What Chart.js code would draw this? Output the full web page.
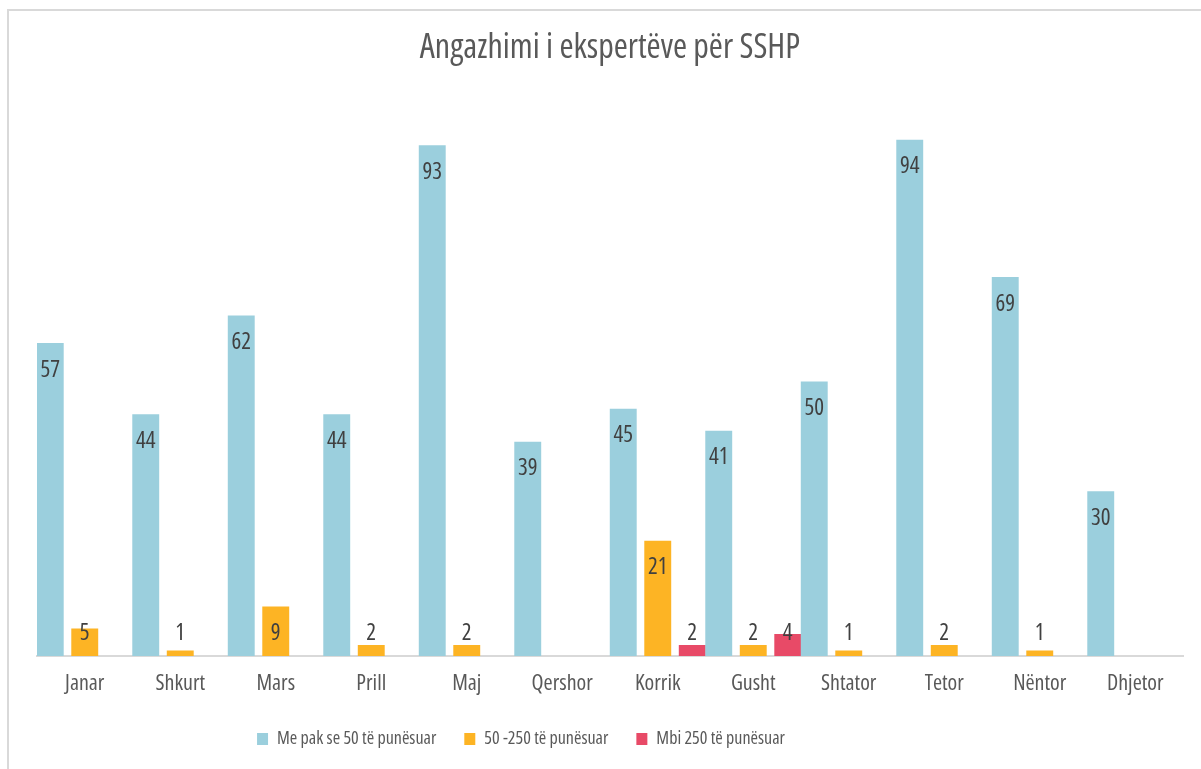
<!DOCTYPE html>
<html>
<head>
<meta charset="utf-8">
<script src="https://cdn.jsdelivr.net/npm/chart.js@4.4.0/dist/chart.umd.min.js"></script>
<style>
  html, body { margin: 0; padding: 0; background: #fff; overflow: hidden; }
  #wrap { position: relative; width: 1201px; height: 769px; }
  #frame { position: absolute; left: 7px; top: 9px; width: 1230px; height: 800px; border: 2px solid #d9d9d9; box-sizing: border-box; pointer-events: none; }
</style>
</head>
<body>
<div id="wrap">
  <canvas id="chart" width="1201" height="769"></canvas>
  <div id="frame"></div>
</div>
<script>
// Data
const months = ['Janar', 'Shkurt', 'Mars', 'Prill', 'Maj', 'Qershor', 'Korrik', 'Gusht', 'Shtator', 'Tetor', 'Nëntor', 'Dhjetor'];
const smallFirms = [57, 44, 62, 44, 93, 39, 45, 41, 50, 94, 69, 30];
const midFirms = [5, 1, 9, 2, 2, null, 21, 2, 1, 2, 1, null];
const bigFirms = [null, null, null, null, null, null, 2, 4, null, null, null, null];
const seriesNames = ['Me pak se 50 të punësuar', '50 -250 të punësuar', 'Mbi 250 të punësuar'];
const seriesColors = ['#9bcfdd', '#fdb424', '#e84a67'];

// narrow face: Open Sans in its condensed width (passed through the weight slot of the font string)
const FAMILY = '"Open Sans", "DejaVu Sans", sans-serif';
const STRETCH = 'condensed';

// value labels: inside the top of the bar, but never closer than 23px to the axis
const valueLabels = {
    id: 'valueLabels',
    afterDatasetsDraw(chart) {
        const ctx = chart.ctx;
        ctx.save();
        ctx.font = STRETCH + ' 23px ' + FAMILY;
        ctx.fillStyle = '#404040';
        ctx.textAlign = 'center';
        ctx.textBaseline = 'middle';
        chart.data.datasets.forEach((ds, i) => {
            chart.getDatasetMeta(i).data.forEach((bar, j) => {
                const v = ds.data[j];
                if (v === null || v === undefined) return;
                const y = Math.min(bar.y + 27, bar.base - 23);
                ctx.fillText(String(v), bar.x, y);
            });
        });
        ctx.restore();
    }
};

// the legend sits a bit left of centre in the original
const legendShift = {
    id: 'legendShift',
    afterLayout(chart) {
        const lg = chart.legend;
        if (!lg) return;
        lg.left -= 89;
        lg.right -= 89;
    }
};

const datasets = [smallFirms, midFirms, bigFirms].map((values, i) => ({
    label: seriesNames[i],
    data: values,
    backgroundColor: seriesColors[i],
    borderWidth: 0,
    categoryPercentage: 1.084,
    barPercentage: 0.78
}));

new Chart(document.getElementById('chart'), {
    type: 'bar',
    data: { labels: months, datasets: datasets },
    options: {
        responsive: false,
        animation: false,
        devicePixelRatio: 1,
        layout: { padding: { left: 37, right: 18, top: 0, bottom: 11 } },
        plugins: {
            title: {
                display: true,
                text: 'Angazhimi i ekspertëve për SSHP',
                color: '#595959',
                font: { family: FAMILY, size: 34, weight: STRETCH },
                padding: { top: 28, bottom: 38 }
            },
            legend: {
                position: 'bottom',
                labels: {
                    color: '#595959',
                    font: { family: FAMILY, size: 18, weight: STRETCH },
                    boxWidth: 11,
                    boxHeight: 12,
                    padding: 28
                }
            },
            tooltip: { enabled: false }
        },
        scales: {
            x: {
                offset: true,
                grid: { display: false, drawTicks: false },
                border: { display: true, color: '#d9d9d9', width: 2 },
                ticks: { color: '#595959', font: { family: FAMILY, size: 22, weight: STRETCH }, padding: 15 },
                afterFit: (scale) => { scale.height = 46; }
            },
            y: {
                display: false,
                min: 0,
                max: 100
            }
        }
    },
    plugins: [valueLabels, legendShift]
});
</script>
</body>
</html>
